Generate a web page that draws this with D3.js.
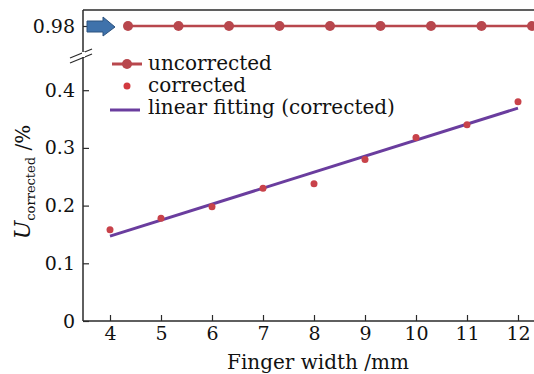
<!DOCTYPE html>
<html>
<head>
<meta charset="utf-8">
<script src="https://cdn.jsdelivr.net/npm/d3@7"></script>
<style>
  body { margin: 0; background: #fff; }
  text { font-family: "DejaVu Serif", serif; fill: #111; }
</style>
</head>
<body>
<div id="container"></div>
<script>
/* DATA */
const fingerWidth = [4, 5, 6, 7, 8, 9, 10, 11, 12];
const uncorrected = [0.98, 0.98, 0.98, 0.98, 0.98, 0.98, 0.98, 0.98, 0.98];
const corrected = [0.158, 0.178, 0.198, 0.230, 0.238, 0.280, 0.318, 0.340, 0.380];
const fitX = [4, 12];
const fitY = [0.147, 0.369];
const xTicks = [4, 5, 6, 7, 8, 9, 10, 11, 12];
const yTicks = [0, 0.1, 0.2, 0.3, 0.4];
const yTopTicks = [0.98];
const legendLabels = ["uncorrected", "corrected", "linear fitting (corrected)"];

/* CONSTANTS */
const width = 534, height = 374;
const axisX = 83, axisY = 321, topY = 10;
const red = "#b8474d", dotRed = "#c8424a", purple = "#6a3d9e", ink = "#2a2a2a";

const svg = d3.select("#container").append("svg")
  .attr("width", width)
  .attr("height", height);

// scales
const xScale = d3.scaleLinear().domain([4, 12]).range([110, 518]);
// the top panel in the original is shifted to the right
const xTopScale = d3.scaleLinear().domain([4, 12]).range([128, 532]);
const yScale = d3.scaleLinear().domain([0, 0.4]).range([axisY, 90.2]);
const yTopScale = d3.scaleLinear().domain([0.96, 1.0]).range([46, 6]);

// frame lines
svg.append("line")
  .attr("x1", axisX).attr("x2", width).attr("y1", topY).attr("y2", topY)
  .attr("stroke", ink).attr("stroke-width", 1.5);
svg.append("line")
  .attr("x1", axisX).attr("x2", width).attr("y1", axisY).attr("y2", axisY)
  .attr("stroke", ink).attr("stroke-width", 1.5);
svg.append("line")
  .attr("x1", axisX).attr("x2", axisX).attr("y1", topY).attr("y2", 52)
  .attr("stroke", ink).attr("stroke-width", 1.5);
svg.append("line")
  .attr("x1", axisX).attr("x2", axisX).attr("y1", 57).attr("y2", axisY)
  .attr("stroke", ink).attr("stroke-width", 1.5);

// axis break marks
[[0, 0], [0, 5]].forEach(d => {
  svg.append("line")
    .attr("x1", 70).attr("y1", 58 + d[1])
    .attr("x2", 92).attr("y2", 49 + d[1])
    .attr("stroke", ink).attr("stroke-width", 1.2);
});
svg.append("rect").attr("x", 82).attr("y", 52).attr("width", 3).attr("height", 5).attr("fill", "#fff");

// axes
const xAxis = d3.axisBottom(xScale)
  .tickValues(xTicks)
  .tickSizeInner(-6)
  .tickSizeOuter(0)
  .tickPadding(6)
  .tickFormat(d3.format("d"));
const xAxisGroup = svg.append("g")
  .attr("transform", `translate(0, ${axisY})`)
  .call(xAxis);

const yAxis = d3.axisLeft(yScale)
  .tickValues(yTicks)
  .tickSizeInner(-6)
  .tickSizeOuter(0)
  .tickPadding(8)
  .tickFormat(d => d === 0 ? "0" : d3.format(".1f")(d));
const yAxisGroup = svg.append("g")
  .attr("transform", `translate(${axisX}, 0)`)
  .call(yAxis);

const yTopAxis = d3.axisLeft(yTopScale)
  .tickValues(yTopTicks)
  .tickSizeInner(-6)
  .tickSizeOuter(0)
  .tickPadding(8)
  .tickFormat(d3.format(".2f"));
const yTopGroup = svg.append("g")
  .attr("transform", `translate(${axisX}, 0)`)
  .call(yTopAxis);

[xAxisGroup, yAxisGroup, yTopGroup].forEach(g => {
  g.select(".domain").remove();
  g.selectAll(".tick line").attr("stroke", ink).attr("stroke-width", 1.2);
  g.selectAll(".tick text")
    .attr("font-family", "DejaVu Serif, serif")
    .attr("font-size", 19)
    .attr("fill", "#111");
});

// axis titles
svg.append("text")
  .attr("x", 318).attr("y", 369)
  .attr("text-anchor", "middle")
  .attr("font-size", 20)
  .text("Finger width /mm");

const yLabel = svg.append("text")
  .attr("transform", `translate(30, 182) rotate(-90)`)
  .attr("text-anchor", "middle");
yLabel.append("tspan").attr("font-size", 22).attr("font-style", "italic").text("U");
yLabel.append("tspan").attr("font-size", 13).attr("dy", 5).text("corrected");
yLabel.append("tspan").attr("font-size", 20).attr("dy", -5).text(" /%");

// arrow at 0.98
const ay = yTopScale(0.98);
svg.append("path")
  .attr("d", `M87,${ay - 5} L103,${ay - 5} L103,${ay - 9} L115,${ay + 1} L103,${ay + 10} L103,${ay + 6} L87,${ay + 6} Z`)
  .attr("fill", "#3f72ab")
  .attr("stroke", "#2c527e")
  .attr("stroke-width", 1);

// uncorrected series (top panel)
const topData = fingerWidth.map((x, i) => ({ x, y: uncorrected[i] }));
const topLine = d3.line()
  .x(d => xTopScale(d.x))
  .y(d => yTopScale(d.y));
svg.append("path")
  .datum(topData)
  .attr("fill", "none")
  .attr("stroke", red)
  .attr("stroke-width", 2.5)
  .attr("d", topLine);
svg.append("line")
  .attr("x1", xTopScale(12)).attr("x2", width)
  .attr("y1", yTopScale(0.98)).attr("y2", yTopScale(0.98))
  .attr("stroke", red).attr("stroke-width", 2.5);
svg.selectAll(".top-point")
  .data(topData)
  .join("circle")
  .attr("class", "top-point")
  .attr("cx", d => xTopScale(d.x))
  .attr("cy", d => yTopScale(d.y))
  .attr("r", 5)
  .attr("fill", red);

// linear fit
const fitData = fitX.map((x, i) => ({ x, y: fitY[i] }));
svg.append("path")
  .datum(fitData)
  .attr("fill", "none")
  .attr("stroke", purple)
  .attr("stroke-width", 3)
  .attr("d", d3.line().x(d => xScale(d.x)).y(d => yScale(d.y)));

// corrected points
svg.selectAll(".corr-point")
  .data(fingerWidth.map((x, i) => ({ x, y: corrected[i] })))
  .join("circle")
  .attr("class", "corr-point")
  .attr("cx", d => xScale(d.x))
  .attr("cy", d => yScale(d.y))
  .attr("r", 3.5)
  .attr("fill", dotRed);

// legend
const legend = svg.append("g").attr("transform", "translate(110, 0)");
legend.append("line").attr("x1", 2).attr("x2", 32).attr("y1", 64).attr("y2", 64)
  .attr("stroke", red).attr("stroke-width", 3);
legend.append("circle").attr("cx", 17).attr("cy", 64).attr("r", 5).attr("fill", red);
legend.append("circle").attr("cx", 17).attr("cy", 86).attr("r", 3.5).attr("fill", "#d23a40");
legend.append("line").attr("x1", 0).attr("x2", 30).attr("y1", 110).attr("y2", 110)
  .attr("stroke", purple).attr("stroke-width", 3);
legend.selectAll(".legend-text")
  .data(legendLabels)
  .join("text")
  .attr("class", "legend-text")
  .attr("x", 38)
  .attr("y", (d, i) => 70 + i * 22)
  .attr("font-size", 20)
  .text(d => d);
</script>
</body>
</html>
